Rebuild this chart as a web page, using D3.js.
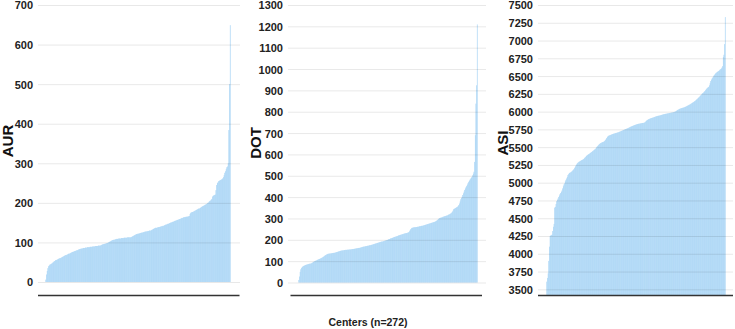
<!DOCTYPE html>
<html>
<head>
<meta charset="utf-8">
<script src="https://cdn.jsdelivr.net/npm/d3@7/dist/d3.min.js"></script>
<style>
  body { margin: 0; background: #fff; }
  svg { display: block; font-family: "Liberation Sans", Arial, sans-serif; }
</style>
</head>
<body>
<svg id="chart" width="735" height="329"></svg>
<script>
// sorted values per center, one bar per center (n=272)
const aur = [
  6, 19, 28, 35, 40, 42, 44, 45, 46, 47, 49, 50, 52, 53, 55, 55, 56,
  57, 58, 59, 60, 60, 61, 62, 63, 64, 65, 66, 67, 68, 68, 69, 70, 71,
  72, 72, 73, 74, 75, 76, 76, 77, 78, 78, 79, 80, 80, 81, 82, 83, 83,
  84, 84, 85, 85, 86, 86, 86, 87, 87, 87, 88, 88, 88, 88, 89, 89, 89,
  89, 90, 90, 90, 90, 91, 91, 91, 91, 92, 92, 92, 92, 93, 94, 95, 95,
  96, 96, 97, 97, 98, 98, 99, 100, 101, 102, 103, 104, 105, 106, 106, 107, 107,
  108, 108, 109, 109, 109, 110, 110, 110, 110, 111, 111, 111, 111, 112, 112, 112, 112,
  112, 113, 113, 113, 113, 113, 113, 114, 115, 116, 117, 118, 119, 120, 121, 121, 122,
  122, 123, 123, 124, 124, 125, 125, 126, 126, 127, 127, 128, 128, 128, 129, 129, 130,
  130, 130, 131, 132, 133, 134, 135, 136, 137, 137, 137, 138, 138, 139, 139, 140, 140,
  141, 141, 142, 142, 143, 144, 145, 145, 146, 147, 147, 148, 149, 150, 150, 151, 152,
  152, 153, 154, 155, 155, 156, 157, 157, 158, 159, 159, 160, 161, 162, 162, 163, 164,
  164, 164, 165, 165, 165, 166, 166, 167, 172, 175, 176, 177, 177, 178, 179, 180, 181,
  182, 183, 184, 185, 186, 186, 187, 189, 190, 191, 192, 193, 194, 195, 196, 197, 198,
  200, 201, 203, 205, 206, 208, 210, 216, 218, 219, 220, 221, 232, 245, 250, 252, 255,
  256, 257, 258, 259, 260, 262, 265, 270, 276, 280, 285, 290, 292, 300, 384, 500, 649
];
const dot = [
  12, 28, 50, 62, 68, 72, 75, 77, 79, 80, 82, 83, 84, 85, 86, 87, 88,
  88, 89, 90, 92, 94, 96, 98, 100, 101, 103, 104, 106, 107, 109, 110, 111, 113,
  114, 116, 118, 120, 122, 125, 127, 129, 131, 132, 134, 135, 135, 136, 136, 137, 137,
  138, 138, 139, 139, 140, 141, 142, 143, 144, 145, 146, 147, 148, 149, 150, 150, 151,
  151, 152, 152, 153, 153, 153, 154, 154, 154, 155, 155, 155, 156, 156, 157, 157, 158,
  158, 159, 160, 160, 161, 161, 162, 162, 163, 164, 165, 166, 167, 168, 168, 169, 170,
  170, 171, 172, 172, 173, 174, 175, 175, 176, 177, 178, 179, 180, 181, 182, 183, 184,
  185, 186, 187, 188, 189, 190, 191, 192, 192, 193, 194, 195, 196, 197, 198, 199, 200,
  202, 203, 204, 206, 207, 208, 209, 210, 212, 213, 214, 215, 216, 217, 218, 220, 221,
  222, 223, 224, 225, 226, 227, 228, 229, 230, 231, 231, 232, 233, 234, 236, 240, 245,
  250, 254, 256, 257, 258, 259, 259, 259, 260, 260, 261, 261, 262, 263, 264, 264, 265,
  266, 266, 267, 268, 269, 270, 271, 272, 273, 274, 275, 276, 277, 278, 279, 280, 281,
  282, 283, 284, 285, 287, 289, 291, 294, 297, 300, 302, 303, 304, 305, 306, 308, 309,
  310, 311, 312, 313, 314, 315, 317, 319, 320, 322, 324, 327, 330, 336, 343, 345, 347,
  349, 351, 353, 355, 358, 363, 370, 380, 390, 396, 402, 410, 418, 426, 434, 441, 447,
  453, 459, 466, 472, 477, 482, 487, 491, 495, 502, 510, 519, 565, 690, 838, 924, 1209
];
const asi = [
  3608, 3660, 3725, 3900, 4100, 4250, 4258, 4263, 4270, 4320, 4380, 4420, 4650, 4660, 4700, 4740, 4760,
  4778, 4800, 4820, 4840, 4855, 4872, 4890, 4920, 4950, 4975, 4990, 5020, 5040, 5060, 5080, 5107, 5120,
  5135, 5140, 5145, 5150, 5160, 5170, 5177, 5190, 5205, 5220, 5240, 5255, 5268, 5280, 5288, 5295, 5300,
  5306, 5312, 5318, 5322, 5327, 5335, 5345, 5355, 5365, 5375, 5385, 5392, 5398, 5404, 5411, 5418, 5425,
  5432, 5440, 5447, 5455, 5462, 5470, 5478, 5490, 5505, 5515, 5525, 5535, 5545, 5552, 5558, 5563, 5568,
  5572, 5575, 5580, 5590, 5600, 5615, 5630, 5645, 5655, 5662, 5666, 5669, 5673, 5677, 5681, 5685, 5688,
  5691, 5694, 5697, 5700, 5702, 5705, 5708, 5711, 5715, 5719, 5723, 5727, 5731, 5735, 5739, 5743, 5747,
  5751, 5755, 5759, 5763, 5767, 5771, 5776, 5781, 5786, 5790, 5794, 5798, 5802, 5806, 5810, 5813, 5817,
  5820, 5823, 5826, 5828, 5830, 5832, 5834, 5836, 5838, 5840, 5841, 5842, 5845, 5850, 5860, 5870, 5878,
  5884, 5890, 5895, 5899, 5903, 5907, 5910, 5913, 5916, 5919, 5922, 5926, 5930, 5933, 5936, 5939, 5941,
  5943, 5945, 5947, 5950, 5953, 5956, 5959, 5962, 5964, 5966, 5968, 5970, 5972, 5974, 5976, 5978, 5980,
  5982, 5983, 5985, 5987, 5989, 5991, 5994, 5997, 6000, 6005, 6012, 6020, 6025, 6030, 6035, 6040, 6044,
  6047, 6050, 6053, 6056, 6058, 6062, 6066, 6070, 6075, 6080, 6085, 6090, 6095, 6100, 6105, 6112, 6118,
  6124, 6130, 6137, 6143, 6150, 6158, 6166, 6175, 6184, 6193, 6202, 6212, 6222, 6232, 6242, 6252, 6262,
  6270, 6278, 6290, 6302, 6314, 6325, 6335, 6342, 6349, 6370, 6400, 6430, 6450, 6466, 6480, 6495, 6510,
  6522, 6534, 6545, 6552, 6559, 6566, 6573, 6580, 6590, 6598, 6606, 6620, 6640, 6770, 6800, 6950, 7330
];

const aurTicks = [0, 100, 200, 300, 400, 500, 600, 700];
const dotTicks = [0, 100, 200, 300, 400, 500, 600, 700, 800, 900, 1000, 1100, 1200, 1300];
const asiTicks = [3500, 3750, 4000, 4250, 4500, 4750, 5000, 5250, 5500, 5750, 6000, 6250, 6500, 6750, 7000, 7250, 7500];

const xTitle = "Centers (n=272)";

// panel layout (pixels)
const panels = [
  { name: "AUR", values: aur, ticks: aurTicks, domain: [0, 700], yRange: [282, 5],
    grid: [38, 240], bars: [45.5, 230.5], line: [38, 239.5], titleX: 13, titleY: 141 },
  { name: "DOT", values: dot, ticks: dotTicks, domain: [0, 1300], yRange: [282.5, 5],
    grid: [288, 486], bars: [298.5, 477.5], line: [290.5, 482], titleX: 261, titleY: 143 },
  { name: "ASI", values: asi, ticks: asiTicks, domain: [3420, 7500], yRange: [295, 5],
    grid: [538, 733], bars: [546.5, 725.5], line: [538, 733], titleX: 508, titleY: 143 }
];

const svg = d3.select("#chart");
const axisY = 295.5;

panels.forEach(p => {
  const g = svg.append("g");
  const y = d3.scaleLinear().domain(p.domain).range(p.yRange);
  const x = d3.scaleBand()
    .domain(d3.range(p.values.length))
    .range(p.bars)
    .paddingInner(0.12);

  // bars start at 0, or at the bottom of the range for the ASI panel
  const base = Math.max(0, p.domain[0]);
  g.append("g")
    .selectAll("rect")
    .data(p.values)
    .join("rect")
    .attr("x", (d, i) => x(i))
    .attr("width", x.bandwidth())
    .attr("y", d => y(d))
    .attr("height", d => y(base) - y(d))
    .attr("fill", "#95cbf3");

  // gridlines + tick labels on top of bars
  const ax = g.append("g")
    .attr("transform", `translate(${p.grid[0]},0)`)
    .call(d3.axisLeft(y)
      .tickValues(p.ticks)
      .tickSize(-(p.grid[1] - p.grid[0]))
      .tickPadding(5)
      .tickFormat(d3.format("d")));
  ax.select(".domain").remove();
  ax.selectAll(".tick line")
    .attr("stroke", "#000")
    .attr("stroke-opacity", 0.09);
  ax.selectAll(".tick text")
    .attr("fill", "#222")
    .attr("font-size", 11)
    .attr("font-weight", "bold")
    .attr("dy", "0.36em");

  // baseline
  g.append("line")
    .attr("x1", p.line[0]).attr("x2", p.line[1])
    .attr("y1", axisY).attr("y2", axisY)
    .attr("stroke", "#333")
    .attr("stroke-width", 1.6);

  // y title
  g.append("text")
    .attr("transform", `translate(${p.titleX},${p.titleY}) rotate(-90)`)
    .attr("text-anchor", "middle")
    .attr("font-size", 15)
    .attr("font-weight", "bold")
    .attr("fill", "#111")
    .text(p.name);
});

svg.append("text")
  .attr("x", 368)
  .attr("y", 326)
  .attr("text-anchor", "middle")
  .attr("font-size", 10.5)
  .attr("font-weight", "bold")
  .attr("fill", "#222")
  .text(xTitle);
</script>
</body>
</html>
